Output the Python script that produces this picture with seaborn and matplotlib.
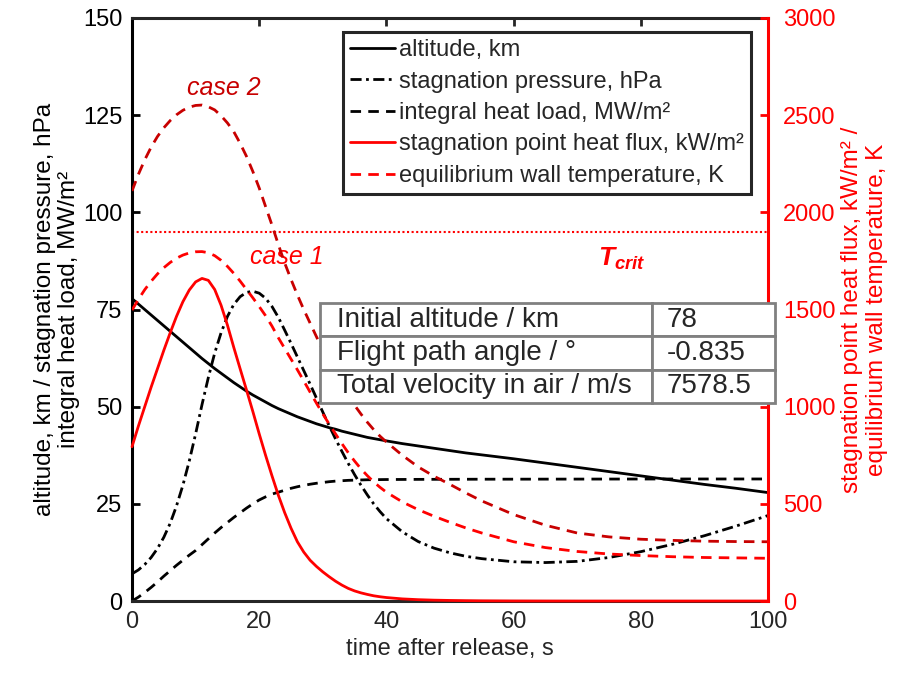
import numpy as np
import pandas as pd
import matplotlib
matplotlib.use("Agg")
import matplotlib.pyplot as plt
import seaborn as sns

# time after release, s
time_s = [0, 1, 2, 3, 4, 5, 6, 7, 8, 9, 10, 11, 12, 13, 14, 15, 16, 17, 18, 19, 20,
          21, 22, 23, 24, 25, 26, 27, 28, 29, 30, 31, 32, 33, 34, 35, 36, 37, 38, 39, 40,
          42.5, 45, 47.5, 50, 52.5, 55, 60, 65, 70, 75, 80, 85, 90, 95, 100]

# left axis quantities
altitude_km = [77.8, 76.4, 75.0, 73.6, 72.2, 70.8, 69.4, 68.0, 66.6, 65.2, 63.8, 62.4, 61.1, 59.8,
               58.6, 57.4, 56.2, 55.1, 54.0, 53.0, 52.1, 51.2, 50.3, 49.5, 48.8, 48.1, 47.4, 46.8,
               46.2, 45.6, 45.1, 44.6, 44.2, 43.7, 43.3, 42.9, 42.5, 42.1, 41.8, 41.5, 41.2,
               40.5, 39.9, 39.3, 38.7, 38.1, 37.6, 36.6, 35.5, 34.4, 33.3, 32.2, 31.1, 30.0, 29.0, 27.9]
stag_pressure_hpa = [7.0, 8.0, 9.4, 11.2, 13.5, 16.4, 20.0, 24.5, 29.8, 36.0, 43.0, 50.5, 57.5, 63.8,
                     69.0, 73.2, 76.3, 78.3, 79.4, 79.7, 79.2, 77.9, 75.8, 73.0, 69.7, 66.3, 62.8,
                     59.3, 55.8, 52.2, 48.6, 45.1, 41.7, 38.5, 35.4, 32.5, 29.8, 27.3, 25.0, 23.0, 21.2,
                     17.8, 15.3, 13.6, 12.4, 11.5, 10.9, 10.1, 9.9, 10.2, 11.2, 12.7, 14.6, 16.8, 19.3, 22.0]
heat_load_mw = [0.0, 1.0, 2.2, 3.5, 4.9, 6.4, 7.8, 9.2, 10.5, 11.8, 13.0, 14.5, 16.0, 17.5, 18.9,
                20.2, 21.5, 22.7, 23.9, 25.0, 26.0, 26.8, 27.5, 28.0, 28.5, 29.0, 29.4, 29.75, 30.05,
                30.3, 30.5, 30.7, 30.85, 30.95, 31.05, 31.1, 31.15, 31.2, 31.22, 31.24, 31.26,
                31.28, 31.3, 31.31, 31.32, 31.33, 31.34, 31.35, 31.36, 31.37, 31.38, 31.39, 31.4,
                31.4, 31.4, 31.4]

# right axis quantities
heat_flux_kw = [794, 900, 1000, 1100, 1195, 1290, 1380, 1465, 1540, 1600, 1642, 1660, 1650, 1603,
                1522, 1420, 1305, 1195, 1086, 975, 860, 750, 645, 545, 455, 375, 305, 252, 210,
                178, 150, 125, 102, 82, 65, 52, 42, 34, 27, 22, 18,
                11, 7, 4.5, 3, 2, 1.2, 0.5, 0.2, 0, 0, 0, 0, 0, 0, 0]
wall_temp_case1 = [1497, 1552, 1602, 1645, 1683, 1715, 1742, 1764, 1780, 1791, 1797, 1798, 1792, 1777,
                   1753, 1722, 1686, 1646, 1603, 1560, 1515, 1468, 1415, 1355, 1300, 1245, 1190,
                   1133, 1075, 1018, 963, 910, 860, 810, 763, 720, 680, 645, 613, 585, 560,
                   510, 470, 436, 405, 376, 350, 305, 275, 255, 242, 234, 228, 224, 222, 220]
wall_temp_case2 = [2110, 2195, 2270, 2335, 2390, 2435, 2472, 2502, 2525, 2541, 2550, 2552, 2543, 2527,
                   2497, 2460, 2415, 2355, 2288, 2210, 2125, 2030, 1935, 1835, 1740, 1655, 1575,
                   1500, 1430, 1360, 1292, 1228, 1168, 1110, 1057, 1007, 962, 920, 882, 848, 818,
                   750, 690, 642, 600, 556, 515, 445, 390, 350, 330, 318, 312, 308, 306, 305]
t_crit = 1900

table_rows = [["Initial altitude / km", "78"],
              ["Flight path angle / °", "-0.835"],
              ["Total velocity in air / m/s", "7578.5"]]

df = pd.DataFrame({"t": time_s, "alt": altitude_km, "p": stag_pressure_hpa, "Q": heat_load_mw,
                   "q": heat_flux_kw, "T1": wall_temp_case1, "T2": wall_temp_case2})

sns.set_style("white")
plt.rcParams['font.family'] = ['Liberation Sans', 'DejaVu Sans']
plt.rcParams['mathtext.fontset'] = 'custom'
plt.rcParams['mathtext.it'] = 'Liberation Sans:italic:bold'
plt.rcParams['mathtext.rm'] = 'Liberation Sans:bold'

RED = '#FF0000'
DARKRED = '#C80000'
DARK = '#262626'
dash = (0, (3.8, 2.6))
dashdot = (0, (4, 1.6, 1, 1.6))

fig = plt.figure(figsize=(9.03, 6.76), dpi=100)
ax = fig.add_axes([0.1462, 0.1109, 0.7043, 0.8625])
ax2 = ax.twinx()

sns.lineplot(data=df, x="t", y="alt", ax=ax, color='black', lw=2, errorbar=None)
sns.lineplot(data=df, x="t", y="p", ax=ax, color='black', lw=2, linestyle=dashdot, errorbar=None)
sns.lineplot(data=df, x="t", y="Q", ax=ax, color='black', lw=2, linestyle=dash, errorbar=None)
l_alt, l_p, l_Q = ax.lines[:3]

ax.axhline(t_crit / 20, color=RED, lw=1.5, linestyle=(0, (1, 1.2)))

sns.lineplot(data=df, x="t", y="T2", ax=ax2, color=DARKRED, lw=2, linestyle=dash, errorbar=None)
sns.lineplot(data=df, x="t", y="T1", ax=ax2, color=RED, lw=2, linestyle=dash, errorbar=None)
sns.lineplot(data=df, x="t", y="q", ax=ax2, color=RED, lw=2, errorbar=None, clip_on=False)
l_T1, l_q = ax2.lines[1], ax2.lines[2]

ax.set_xlim(0, 100)
ax.set_ylim(0, 150)
ax2.set_ylim(0, 3000)
ax.set_xticks(range(0, 101, 20))
ax.set_yticks(range(0, 151, 25))
ax2.set_yticks(range(0, 3001, 500))

ax.tick_params(axis='x', direction='in', top=True, length=6, width=2, labelsize=17,
               colors=DARK, pad=7)
ax.tick_params(axis='y', direction='in', right=False, length=6, width=2, labelsize=17,
               colors='black', pad=7)
ax2.tick_params(axis='y', direction='in', length=6, width=2, labelsize=17, colors=RED, pad=11)

for s in ['top', 'bottom']:
    ax.spines[s].set_color(DARK)
    ax.spines[s].set_linewidth(2.2)
ax.spines['left'].set_color('black')
ax.spines['left'].set_linewidth(2.2)
for s in ['top', 'bottom', 'left']:
    ax2.spines[s].set_visible(False)
ax2.spines['right'].set_color(RED)
ax2.spines['right'].set_linewidth(2.2)

ax.set_xlabel("time after release, s", fontsize=17, color=DARK, labelpad=4)
ax.set_ylabel("altitude, km / stagnation pressure, hPa\nintegral heat load, MW/m²",
              fontsize=17.5, color='black', labelpad=2, linespacing=1.15)
ax2.set_ylabel("stagnation point heat flux, kW/m² /\nequilibrium wall temperature, K",
               fontsize=17.5, color=RED, labelpad=4, linespacing=1.15)

ax.text(14.4, 131.9, "case 2", fontsize=18, style='italic', color=DARKRED, ha='center', va='center')
ax.text(24.3, 88.6, "case 1", fontsize=18, style='italic', color=RED, ha='center', va='center')
ax.text(77.0, 88.0, r"$T_{crit}$", fontsize=19, color=RED, ha='center', va='center')

leg = ax2.legend([l_alt, l_p, l_Q, l_q, l_T1],
                 ["altitude, km", "stagnation pressure, hPa", "integral heat load, MW/m²",
                  "stagnation point heat flux, kW/m²", "equilibrium wall temperature, K"],
                 loc='upper left', bbox_to_anchor=(0.332, 0.976), borderaxespad=0,
                 fontsize=17, handlelength=1.9, handletextpad=0.15, labelspacing=0.4,
                 borderpad=0.3, fancybox=False, framealpha=1, edgecolor=DARK)
leg.get_frame().set_linewidth(2.2)
leg.set_zorder(20)

tab = ax2.table(cellText=table_rows, colWidths=[0.73, 0.27], cellLoc='left',
                bbox=[0.296, 0.34, 0.715, 0.171])
tab.auto_set_font_size(False)
tab.set_zorder(21)
for (r, c), cell in tab.get_celld().items():
    cell.set_edgecolor('#808080')
    cell.set_linewidth(2)
    cell.set_facecolor('white')
    cell.PAD = 0.05 if c == 0 else 0.12
    cell.get_text().set_fontsize(20)
    cell.set_clip_on(False)

fig.savefig("out.png", dpi=100)
